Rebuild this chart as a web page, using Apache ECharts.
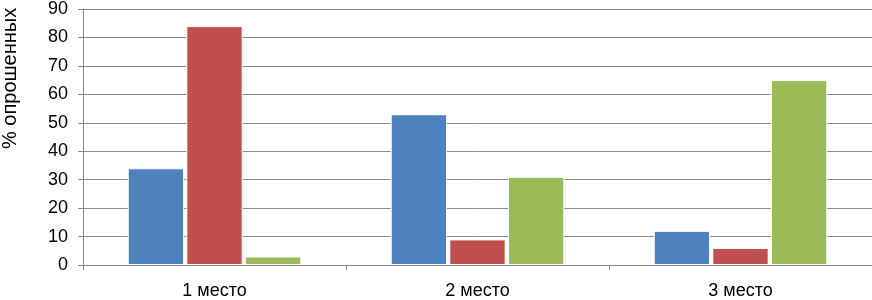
<!DOCTYPE html>
<html><head><meta charset="utf-8">
<script src="https://cdn.jsdelivr.net/npm/echarts@6/dist/echarts.min.js"></script>
<style>html,body{margin:0;padding:0;background:#fff}#c{width:872px;height:300px}</style>
</head><body><div id="c"></div>
<script>
const categories = ['1 место', '2 место', '3 место'];
const seriesA = [34, 53, 12];
const seriesB = [84, 9, 6];
const seriesC = [3, 31, 65];
const yTicks = { min: 0, max: 90, interval: 10 };
const yTitle = '% опрошенных';

const chart = echarts.init(document.getElementById('c'), null, { renderer: 'canvas' });
const font = 'Liberation Sans, Arial, sans-serif';
function bar(data, color) {
  return {
    type: 'bar', data: data, barGap: '4%', barCategoryGap: '34%',
    itemStyle: { color: color, borderColor: '#ffffff', borderWidth: 1 },
    silent: true
  };
}
chart.setOption({
  animation: false,
  grid: { left: 83, right: 0, top: 7, bottom: 34 },
  xAxis: {
    type: 'category', data: categories,
    axisLine: { lineStyle: { color: '#8a8a8a', width: 1 } },
    axisTick: { show: true, length: 5, lineStyle: { color: '#8a8a8a' } },
    axisLabel: { color: '#000', fontSize: 18, fontFamily: font, margin: 17 }
  },
  yAxis: {
    type: 'value', min: yTicks.min, max: yTicks.max, interval: yTicks.interval,
    axisLine: { show: true, lineStyle: { color: '#8a8a8a', width: 1 } },
    axisTick: { show: true, length: 5, lineStyle: { color: '#8a8a8a' } },
    axisLabel: { color: '#000', fontSize: 18, fontFamily: font, margin: 15 },
    splitLine: { lineStyle: { color: '#8a8a8a', width: 1 } }
  },
  graphic: [{
    type: 'text', rotation: Math.PI / 2,
    x: 0, y: 149, originX: 0, originY: 0,
    style: { text: yTitle, fill: '#000', fontSize: 20, fontFamily: font }
  }],
  series: [bar(seriesA, '#4F81BD'), bar(seriesB, '#C0504D'), bar(seriesC, '#9BBB59')]
});
</script></body></html>
